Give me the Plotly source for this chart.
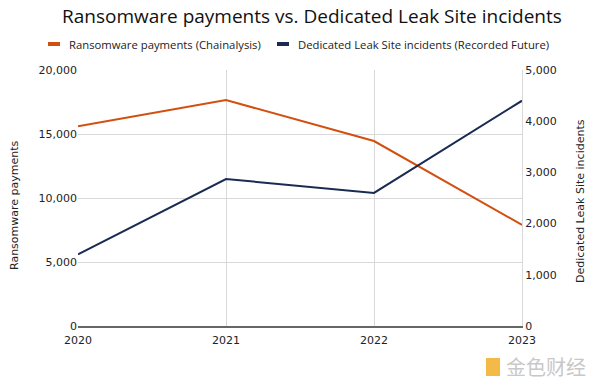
import plotly.graph_objects as go

years = [2020, 2021, 2022, 2023]
ransomware_payments = [15600, 17650, 14450, 7900]
dls_incidents = [1400, 2870, 2600, 4400]
left_ticks = [0, 5000, 10000, 15000, 20000]
right_ticks = [0, 1000, 2000, 3000, 4000, 5000]
series_names = ["Ransomware payments (Chainalysis)",
                "Dedicated Leak Site incidents (Recorded Future)"]

ORANGE = "#D2500F"
NAVY = "#1A2B52"
FONT = "DejaVu Sans"
W, H = 600, 389
PL, PR, PT, PB = 78, 522, 70, 326  # plot area in pixels


def px(vx):
    return (vx - PL) / (PR - PL)


def py(vy):
    return (PB - vy) / (PB - PT)


fig = go.Figure()
fig.add_trace(go.Scatter(x=years, y=ransomware_payments, mode="lines",
                         name=series_names[0],
                         line=dict(color=ORANGE, width=2), yaxis="y"))
fig.add_trace(go.Scatter(x=years, y=dls_incidents, mode="lines",
                         name=series_names[1],
                         line=dict(color=NAVY, width=2), yaxis="y2"))

shapes = []
annotations = []
# manual single-row legend
legend_items = [(48, 67, ORANGE, series_names[0]), (277, 296, NAVY, series_names[1])]
for mx, tx, col, name in legend_items:
    shapes.append(dict(type="rect", xref="paper", yref="paper",
                       x0=px(mx), x1=px(mx + 12), y0=py(46), y1=py(42),
                       fillcolor=col, line=dict(width=0)))
    annotations.append(dict(text=name, xref="paper", yref="paper",
                            x=px(tx), y=py(44), xanchor="left", yanchor="middle",
                            showarrow=False,
                            font=dict(family="Open Sans", size=11.3, color="#222")))

# axis titles
annotations.append(dict(text="Ransomware payments", xref="paper", yref="paper",
                        x=px(14), y=py(205), xanchor="center", yanchor="middle",
                        textangle=-90, showarrow=False,
                        font=dict(family=FONT, size=11, color="#222")))
annotations.append(dict(text="Dedicated Leak Site incidents", xref="paper", yref="paper",
                        x=px(580), y=py(201), xanchor="center", yanchor="middle",
                        textangle=-90, showarrow=False,
                        font=dict(family=FONT, size=11, color="#222")))

# watermark
shapes.append(dict(type="rect", xref="paper", yref="paper",
                   x0=px(486), x1=px(500), y0=py(376), y1=py(358),
                   fillcolor="#F2B233", line=dict(width=0), opacity=0.9))
annotations.append(dict(text="金色财经", xref="paper", yref="paper",
                        x=px(504), y=py(366), xanchor="left", yanchor="middle",
                        showarrow=False,
                        font=dict(family="Noto Sans CJK SC", size=20, color="#c8c8c8")))

fig.update_layout(
    width=W, height=H,
    paper_bgcolor="white", plot_bgcolor="white",
    margin=dict(l=PL, r=W - PR, t=PT, b=H - PB, autoexpand=False),
    font=dict(family=FONT, size=11, color="#222"),
    showlegend=False,
    hovermode=False,
    shapes=shapes,
    annotations=annotations + [dict(
        text="Ransomware payments vs. Dedicated Leak Site incidents",
        xref="paper", yref="paper", x=px(312), y=py(16),
        xanchor="center", yanchor="middle", showarrow=False,
        font=dict(family="Open Sans", size=19, color="#111"))],
    xaxis=dict(range=[2020, 2023], tickvals=years, ticktext=[str(y) for y in years],
               showgrid=True, gridcolor="#d9d9d9", gridwidth=1,
               showline=True, linecolor="#666", linewidth=2,
               ticks="", tickfont=dict(size=11, color="#222"), zeroline=False,
               automargin=False, ticklabelstandoff=3),
    yaxis=dict(range=[0, 20000], tickvals=left_ticks, tickformat=",",
               showgrid=True, gridcolor="#d9d9d9", zeroline=False, automargin=False,
               tickfont=dict(size=11, color="#222")),
    yaxis2=dict(range=[0, 5000], tickvals=right_ticks, tickformat=",",
                overlaying="y", side="right", showgrid=False, zeroline=False,
                automargin=False, showline=True, linecolor="#d9d9d9", linewidth=1,
                tickfont=dict(size=11, color="#222")),
)

# remove the default 8px page margin so the 600x389 figure fills the window
fig.write_html("out.html", config={"displayModeBar": False},
               post_script="document.body.style.margin='0';")
